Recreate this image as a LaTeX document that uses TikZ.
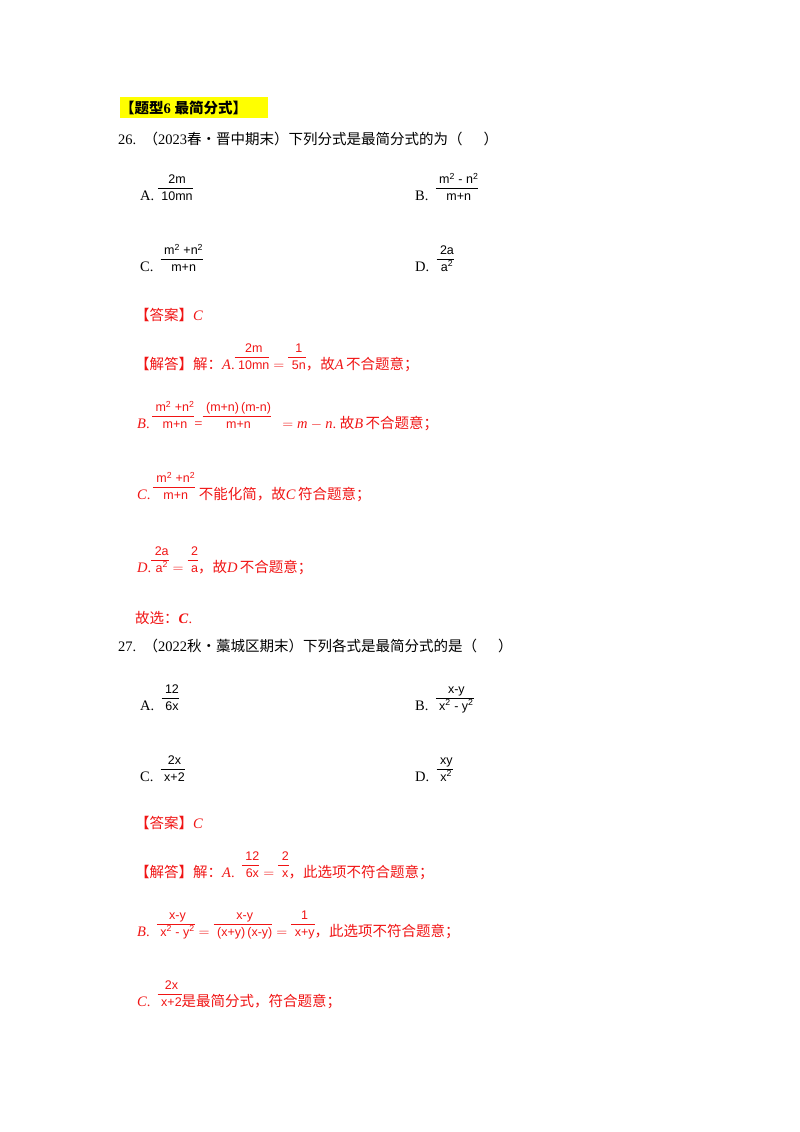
\documentclass[tikz,border=0pt]{standalone}
\usepackage{fontspec}
\setmainfont{Liberation Serif}
\newfontfamily\cjk{Noto Sans CJK SC}
\newfontfamily\frf{Liberation Sans}
\definecolor{ansred}{RGB}{240,20,20}
\definecolor{hl}{RGB}{255,255,0}
\newcommand{\cj}[1]{{\cjk #1}}
\newcommand{\fr}[2]{{\frf\fontsize{12.5}{13}\selectfont\setlength{\tabcolsep}{0pt}\renewcommand{\arraystretch}{1.05}\begin{tabular}[b]{c}\ #1\ \\\hline\rule{0pt}{12pt}\ #2\ \end{tabular}}}
\newcommand{\sq}{\textsuperscript{2}}
\tikzset{txt/.style={anchor=base west,inner sep=0pt,font=\fontsize{14.5}{16}\selectfont},
ans/.style={txt,text=ansred}}
\begin{document}
\begin{tikzpicture}[x=1pt,y=-1pt]
\useasboundingbox (0,0) rectangle (800,1132);
\fill[hl] (120,97) rectangle (268,118);
\node[txt] (h) at (120,113) {\cj{\bfseries 【题型}\textbf{6} \cj{\bfseries 最简分式】}};
\node[txt] (q26) at (118,144) {26.\ \ \cj{（}2023\cj{春•晋中期末）下列分式是最简分式的为（\quad\ \ ）}};
\node[txt] (a1) at (140,200) {A.\ \fr{2m}{10mn}};
\node[txt] (b1) at (415,200) {B.\ \ \fr{m\sq{} - n\sq}{m+n}};
\node[txt] (c1) at (140,271) {C.\ \ \fr{m\sq{} +n\sq}{m+n}};
\node[txt] (d1) at (415,271) {D.\ \ \fr{2a}{a\sq}};
\node[ans] (k1) at (135,320) {\cj{【答案】}\textit{C}};
\node[ans] (s1) at (135,369) {\cj{【解答】解：}\textit{A}.\fr{2m}{10mn}${}={}$\fr{1}{5n}\cj{，故}\textit{A}\,\cj{不合题意；}};
\node[ans] (s2) at (137,428) {\textit{B}.\,\fr{m\sq{} +n\sq}{m+n}=\fr{(m+n)\,(m-n)}{m+n}\ \ ${}=\mathit{m}-\mathit{n}$.\ \cj{故}\textit{B}\,\cj{不合题意；}};
\node[ans] (s3) at (137,499) {\textit{C}.\,\fr{m\sq{} +n\sq}{m+n}\ \cj{不能化简，故}\textit{C}\,\cj{符合题意；}};
\node[ans] (s4) at (137,572) {\textit{D}.\fr{2a}{a\sq}${}={}$\fr{2}{a}\cj{，故}\textit{D}\,\cj{不合题意；}};
\node[ans] (g1) at (135,623) {\cj{故选：}\textbf{\textit{C}}.};
\node[txt] (q27) at (118,651) {27.\ \ \cj{（}2022\cj{秋•藁城区期末）下列各式是最简分式的是（\quad\ \ ）}};
\node[txt] (a2) at (140,710) {A.\ \ \fr{12}{6x}};
\node[txt] (b2) at (415,710) {B.\ \ \fr{x-y}{x\sq{} - y\sq}};
\node[txt] (c2) at (140,781) {C.\ \ \fr{2x}{x+2}};
\node[txt] (d2) at (415,781) {D.\ \ \fr{xy}{x\sq}};
\node[ans] (k2) at (135,828) {\cj{【答案】}\textit{C}};
\node[ans] (t1) at (135,877) {\cj{【解答】解：}\textit{A}.\ \ \fr{12}{6x}${}={}$\fr{2}{x}\cj{，此选项不符合题意；}};
\node[ans] (t2) at (137,936) {\textit{B}.\ \ \fr{x-y}{x\sq{} - y\sq}${}={}$\fr{x-y}{(x+y)\,(x-y)}${}={}$\fr{1}{x+y}\cj{，此选项不符合题意；}};
\node[ans] (t3) at (137,1006) {\textit{C}.\ \ \fr{2x}{x+2}\cj{是最简分式，符合题意；}};
\end{tikzpicture}
\end{document}
